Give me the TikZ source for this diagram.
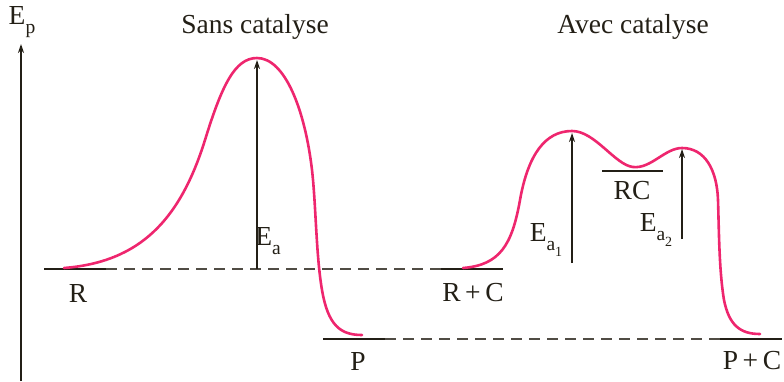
\documentclass[tikz,border=0pt]{standalone}
\usepackage{fontspec}
\setmainfont{Liberation Serif}
\usetikzlibrary{arrows.meta}
\definecolor{ink}{RGB}{35,31,22}
\definecolor{curvepink}{RGB}{238,38,110}
\definecolor{dashgray}{RGB}{80,76,68}
\newcommand{\bigtxt}{\fontsize{27.5}{30}\selectfont}
\newcommand{\subA}[1]{\raisebox{-0.32em}{\fontsize{19.5}{20}\selectfont #1}}
\newcommand{\subB}[1]{\raisebox{-0.28em}{\fontsize{14}{14}\selectfont #1}}
\tikzset{
  lbl/.style={inner sep=0pt, text=ink, font=\bigtxt},
  level/.style={draw=ink, line width=2pt},
  dashlevel/.style={draw=dashgray, line width=1.4pt, dash pattern=on 11pt off 7pt},
  energy/.style={draw=curvepink, line width=2.6pt, line cap=round},
  gap/.style={draw=ink, line width=1.3pt, -{Stealth[length=9pt,width=6pt]}},
}
\begin{document}
\begin{tikzpicture}[x=1pt,y=-1pt]
\useasboundingbox (0,0) rectangle (784,381);
% axis
\coordinate (axB) at (21,381);
\coordinate (axT) at (21,44);
\draw[gap] (axB) -- (axT);
\node[lbl] (ep) at (22,22) {E\subA{p}};
% titles
\node[lbl] (t1) at (255,27) {Sans catalyse};
\node[lbl] (t2) at (633,27) {Avec catalyse};
% levels
\coordinate (r1) at (44,269); \coordinate (r2) at (106,269);
\coordinate (rc1) at (441,269); \coordinate (rc2) at (503,269);
\coordinate (p1) at (323,339); \coordinate (p2) at (385,339);
\coordinate (pc1) at (720,339); \coordinate (pc2) at (782,339);
\coordinate (m1) at (602,171); \coordinate (m2) at (663,171);
\draw[dashlevel] (r2) -- (rc1);
\draw[dashlevel] (p2) -- (pc1);
\draw[level] (r1) -- (r2);
\draw[level] (rc1) -- (rc2);
\draw[level] (p1) -- (p2);
\draw[level] (pc1) -- (pc2);
\draw[level] (m1) -- (m2);
\node[lbl] (R) at (78,293) {R};
\node[lbl] (RC0) at (473,293) {R\,+\,C};
\node[lbl] (P) at (358,361) {P};
\node[lbl] (PC) at (752,361) {P\,+\,C};
\node[lbl] (RC) at (632,191) {RC};
% curves
\draw[energy] (64,268) .. controls (140,262) and (180,220) .. (205,140)
  .. controls (222,85) and (235,58) .. (257,58)
  .. controls (285,58) and (305,110) .. (312,170)
  .. controls (316,205) and (316,255) .. (322,290)
  .. controls (328,325) and (340,335) .. (362,335);
\draw[energy] (463,268) .. controls (500,265) and (512,245) .. (520,200)
  .. controls (528,155) and (545,131) .. (572,131)
  .. controls (595,131) and (615,165) .. (633,167)
  .. controls (651,169) and (665,148) .. (682,148)
  .. controls (705,148) and (717,170) .. (718,200)
  .. controls (719,230) and (719,270) .. (724,300)
  .. controls (729,325) and (740,334) .. (760,334);
% activation arrows
\coordinate (ea0) at (257,269); \coordinate (ea1) at (257,60);
\draw[gap] (ea0) -- (ea1);
\node[lbl] (Ea) at (268,241) {E\subA{a}};
\coordinate (eb0) at (572,263); \coordinate (eb1) at (572,133);
\draw[gap] (eb0) -- (eb1);
\node[lbl] (Ea1) at (546,240) {E\subA{a\subB{1}}};
\coordinate (ec0) at (682,239); \coordinate (ec1) at (682,149);
\draw[gap] (ec0) -- (ec1);
\node[lbl] (Ea2) at (656,230) {E\subA{a\subB{2}}};
\end{tikzpicture}
\end{document}
